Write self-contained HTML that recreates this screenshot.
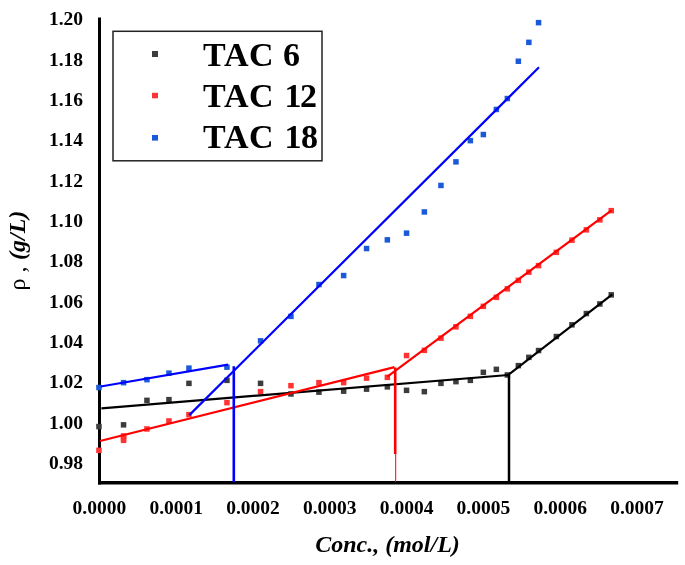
<!DOCTYPE html>
<html><head><meta charset="utf-8"><title>Density vs concentration</title>
<style>html,body{margin:0;padding:0;background:#fff;width:685px;height:565px;overflow:hidden}svg{display:block}</style>
</head><body>
<svg width="685" height="565" viewBox="0 0 685 565">
<rect width="685" height="565" fill="#fff"/>
<g font-family="'Liberation Serif', serif" font-weight="bold" font-size="19.5" fill="#000" text-anchor="end">
<text x="83" y="25.1">1.20</text><text x="83" y="65.5">1.18</text><text x="83" y="105.8">1.16</text><text x="83" y="146.2">1.14</text><text x="83" y="186.5">1.12</text><text x="83" y="226.8">1.10</text><text x="83" y="267.2">1.08</text><text x="83" y="307.6">1.06</text><text x="83" y="347.9">1.04</text><text x="83" y="388.3">1.02</text><text x="83" y="428.6">1.00</text><text x="83" y="469.0">0.98</text>
</g>
<g font-family="'Liberation Serif', serif" font-weight="bold" font-size="19.5" fill="#000" text-anchor="middle">
<text x="99.4" y="513.5">0.0000</text><text x="176.2" y="513.5">0.0001</text><text x="253.0" y="513.5">0.0002</text><text x="329.8" y="513.5">0.0003</text><text x="406.6" y="513.5">0.0004</text><text x="483.4" y="513.5">0.0005</text><text x="560.2" y="513.5">0.0006</text><text x="637.0" y="513.5">0.0007</text>
</g>
<text x="387.5" y="552.3" font-family="'Liberation Serif', serif" font-weight="bold" font-style="italic" font-size="24" text-anchor="middle">Conc., (mol/L)</text>
<text transform="translate(24.5,290.5) rotate(-90)" font-family="'Liberation Serif', serif" font-size="24">ρ , <tspan dx="0.5" font-weight="bold" font-style="italic">(g/L)</tspan></text>
<!-- legend -->
<rect x="113" y="31.3" width="209" height="129.5" fill="none" stroke="#222" stroke-width="1.5"/>
<rect x="152" y="51" width="6" height="6" fill="#3c3c3c"/>
<rect x="152" y="92.8" width="6" height="5.5" fill="#ff3333"/>
<rect x="152" y="135" width="6" height="5.6" fill="#1a5ad8"/>
<g font-family="'Liberation Serif', serif" font-weight="bold" font-size="34" fill="#000" style="font-kerning:none">
<text x="203 224 249 275 283" y="65.7">TAC 6</text>
<text x="203 224 249 275 284.6 300" y="107">TAC 12</text>
<text x="203 224 249 275 284.6 301" y="148.3">TAC 18</text>
</g>
<!-- axes -->
<line x1="99.5" y1="17.6" x2="99.5" y2="484.5" stroke="#000" stroke-width="3"/>
<line x1="98" y1="482.7" x2="678.2" y2="482.7" stroke="#000" stroke-width="3.5"/>
<g fill="#3c3c3c"><rect x="96.2" y="423.8" width="5.5" height="5.5"/><rect x="120.8" y="422.1" width="5.5" height="5.5"/><rect x="144.2" y="397.6" width="5.5" height="5.5"/><rect x="166.2" y="396.9" width="5.5" height="5.5"/><rect x="186.2" y="380.6" width="5.5" height="5.5"/><rect x="224.2" y="377.6" width="5.5" height="5.5"/><rect x="257.8" y="380.6" width="5.5" height="5.5"/><rect x="288.2" y="391.2" width="5.5" height="5.5"/><rect x="316.2" y="389.4" width="5.5" height="5.5"/><rect x="340.9" y="388.4" width="5.5" height="5.5"/><rect x="363.8" y="386.4" width="5.5" height="5.5"/><rect x="384.6" y="384.1" width="5.5" height="5.5"/><rect x="403.8" y="387.6" width="5.5" height="5.5"/><rect x="421.6" y="388.9" width="5.5" height="5.5"/><rect x="438.2" y="380.6" width="5.5" height="5.5"/><rect x="453.2" y="378.9" width="5.5" height="5.5"/><rect x="467.6" y="377.6" width="5.5" height="5.5"/><rect x="480.6" y="369.6" width="5.5" height="5.5"/><rect x="493.6" y="366.6" width="5.5" height="5.5"/><rect x="504.6" y="372.2" width="5.5" height="5.5"/><rect x="515.6" y="362.9" width="5.5" height="5.5"/><rect x="526.1" y="354.6" width="5.5" height="5.5"/><rect x="535.8" y="347.8" width="5.5" height="5.5"/><rect x="553.6" y="333.8" width="5.5" height="5.5"/><rect x="569.2" y="322.1" width="5.5" height="5.5"/><rect x="583.6" y="310.8" width="5.5" height="5.5"/><rect x="597.1" y="301.2" width="5.5" height="5.5"/><rect x="608.5" y="292.1" width="5.5" height="5.5"/></g>
<g fill="#ff3333"><rect x="96.2" y="447.6" width="5.5" height="5.5"/><rect x="120.8" y="435.4" width="5.5" height="5.5"/><rect x="144.2" y="426.2" width="5.5" height="5.5"/><rect x="166.2" y="418.2" width="5.5" height="5.5"/><rect x="186.2" y="411.9" width="5.5" height="5.5"/><rect x="224.2" y="399.9" width="5.5" height="5.5"/><rect x="257.8" y="388.9" width="5.5" height="5.5"/><rect x="288.2" y="382.9" width="5.5" height="5.5"/><rect x="316.2" y="379.9" width="5.5" height="5.5"/><rect x="340.9" y="379.9" width="5.5" height="5.5"/><rect x="363.8" y="375.4" width="5.5" height="5.5"/><rect x="384.6" y="374.6" width="5.5" height="5.5"/><rect x="403.8" y="352.8" width="5.5" height="5.5"/><rect x="421.6" y="347.6" width="5.5" height="5.5"/><rect x="438.2" y="335.4" width="5.5" height="5.5"/><rect x="453.2" y="324.1" width="5.5" height="5.5"/><rect x="467.6" y="313.6" width="5.5" height="5.5"/><rect x="480.6" y="303.6" width="5.5" height="5.5"/><rect x="493.6" y="294.6" width="5.5" height="5.5"/><rect x="504.6" y="286.1" width="5.5" height="5.5"/><rect x="515.6" y="277.6" width="5.5" height="5.5"/><rect x="526.1" y="269.4" width="5.5" height="5.5"/><rect x="535.8" y="262.9" width="5.5" height="5.5"/><rect x="553.6" y="249.6" width="5.5" height="5.5"/><rect x="569.2" y="237.4" width="5.5" height="5.5"/><rect x="583.6" y="227.1" width="5.5" height="5.5"/><rect x="597.1" y="217.1" width="5.5" height="5.5"/><rect x="608.5" y="207.9" width="5.5" height="5.5"/><rect x="120.8" y="433.2" width="5.5" height="5.5"/><rect x="120.8" y="437.6" width="5.5" height="5.5"/></g>
<g fill="#1a5ad8"><rect x="96.2" y="384.8" width="5.5" height="5.5"/><rect x="120.8" y="379.9" width="5.5" height="5.5"/><rect x="144.2" y="376.9" width="5.5" height="5.5"/><rect x="166.2" y="370.4" width="5.5" height="5.5"/><rect x="186.2" y="365.4" width="5.5" height="5.5"/><rect x="224.2" y="364.4" width="5.5" height="5.5"/><rect x="257.8" y="338.1" width="5.5" height="5.5"/><rect x="288.2" y="313.6" width="5.5" height="5.5"/><rect x="316.2" y="281.8" width="5.5" height="5.5"/><rect x="340.9" y="272.8" width="5.5" height="5.5"/><rect x="363.8" y="245.8" width="5.5" height="5.5"/><rect x="384.6" y="237.1" width="5.5" height="5.5"/><rect x="403.8" y="230.4" width="5.5" height="5.5"/><rect x="421.6" y="209.2" width="5.5" height="5.5"/><rect x="438.2" y="182.7" width="5.5" height="5.5"/><rect x="453.2" y="159.1" width="5.5" height="5.5"/><rect x="467.6" y="137.9" width="5.5" height="5.5"/><rect x="480.6" y="131.8" width="5.5" height="5.5"/><rect x="493.6" y="106.7" width="5.5" height="5.5"/><rect x="504.6" y="95.8" width="5.5" height="5.5"/><rect x="515.6" y="58.5" width="5.5" height="5.5"/><rect x="526.1" y="39.6" width="5.5" height="5.5"/><rect x="535.8" y="19.9" width="5.5" height="5.5"/></g>
<!-- lines -->
<g fill="none" stroke-linecap="butt">
<line x1="101.4" y1="408.3" x2="508.3" y2="375" stroke="#000" stroke-width="2.2"/>
<line x1="508.3" y1="375" x2="612.3" y2="294.4" stroke="#000" stroke-width="2.2"/>
<line x1="509" y1="375" x2="509" y2="482" stroke="#000" stroke-width="2.5"/>
<line x1="100" y1="441" x2="394.5" y2="367.1" stroke="#ff0000" stroke-width="2.2"/>
<line x1="387.4" y1="376.7" x2="611.5" y2="210.3" stroke="#ff0000" stroke-width="2.2"/>
<line x1="395.2" y1="367.5" x2="395.2" y2="454" stroke="#ff0000" stroke-width="2.6"/>
<line x1="395.7" y1="454" x2="395.7" y2="482" stroke="#ff0000" stroke-width="1"/>
<line x1="100.7" y1="386.5" x2="228" y2="364.6" stroke="#0000ff" stroke-width="2.2"/>
<line x1="189.3" y1="415.1" x2="539" y2="67.3" stroke="#0000ff" stroke-width="2.2"/>
<line x1="233.8" y1="366.2" x2="233.8" y2="482" stroke="#0000ff" stroke-width="2.6"/>
</g>
</svg>
</body></html>
